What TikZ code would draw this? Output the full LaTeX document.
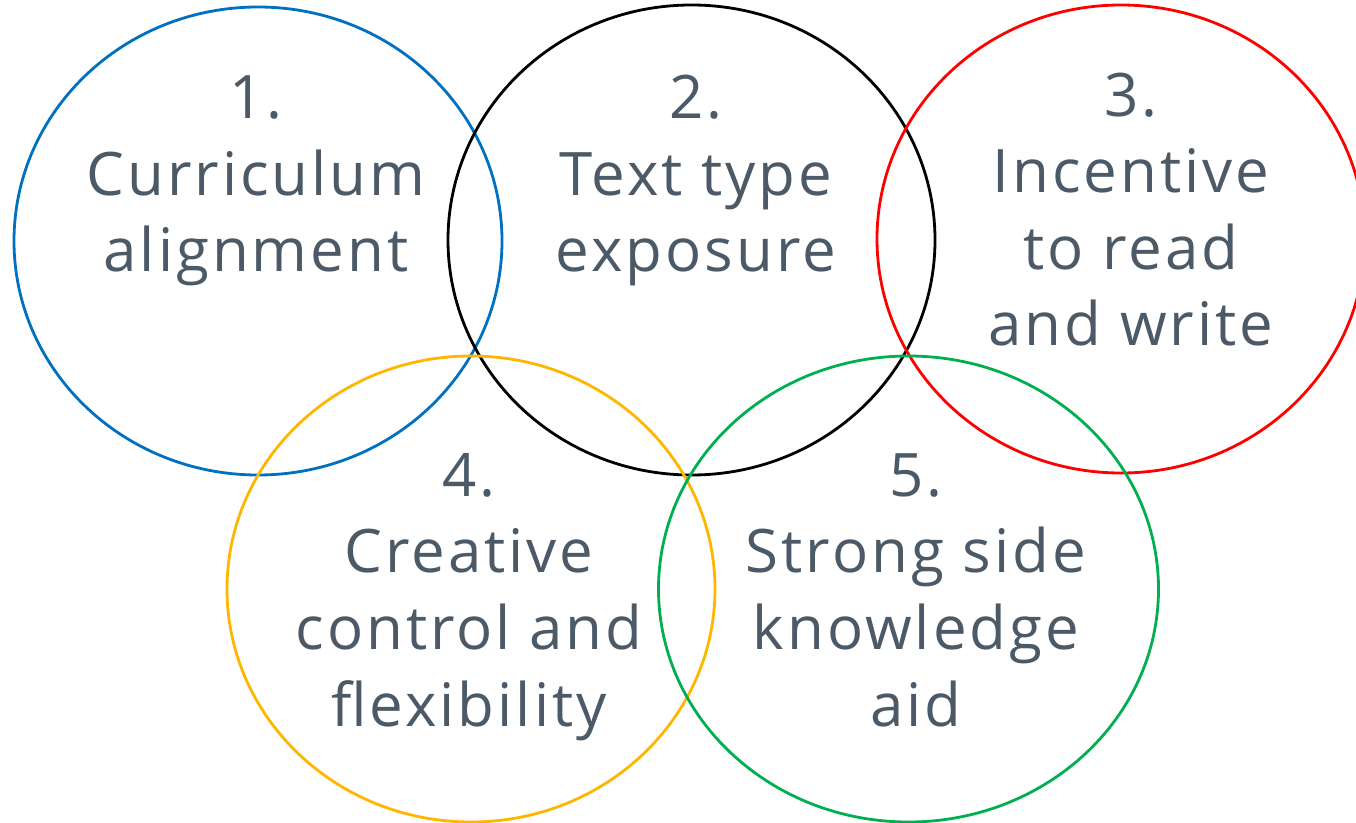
\documentclass[tikz,border=0pt]{standalone}
\usepackage{fontspec}
\setmainfont[LetterSpace=5]{Open Sans}
\definecolor{labelgray}{HTML}{4B5A66}
\definecolor{ringblue}{HTML}{0070C0}
\definecolor{ringred}{HTML}{FF0000}
\definecolor{ringgold}{HTML}{FFB600}
\definecolor{ringgreen}{HTML}{00B050}
\begin{document}
\begin{tikzpicture}[x=0.75pt,y=-0.75pt,
  ring/.style={line width=2.1pt},
  label/.style={align=center,anchor=base,inner sep=0pt,text=labelgray,
    font=\fontsize{45}{57.4}\selectfont}]
\useasboundingbox (0,0) rectangle (1356,823);
% five overlapping rings
\draw[ring,ringblue]  (258,241) ellipse [x radius=244, y radius=234];
\draw[ring,black]     (691.5,240) ellipse [x radius=243.5, y radius=235];
\draw[ring,ringred]   (1121,239) ellipse [x radius=244, y radius=234];
\draw[ring,ringgold]  (471,589) ellipse [x radius=244, y radius=233];
\draw[ring,ringgreen] (908.5,589) ellipse [x radius=250, y radius=233];
% ring labels (anchored at the baseline of the last line)
\node[label] (t1) at (256,272) {1.\\Curriculum\\alignment};
\node[label] (t2) at (696,272) {2.\\Text type\\exposure};
\node[label] (t3) at (1131,346) {3.\\Incentive\\to read\\and write};
\node[label] (t4) at (469,726) {4.\\Creative\\control and\\flexibility};
\node[label] (t5) at (916,726) {5.\\Strong side\\knowledge\\aid};
\end{tikzpicture}
\end{document}
